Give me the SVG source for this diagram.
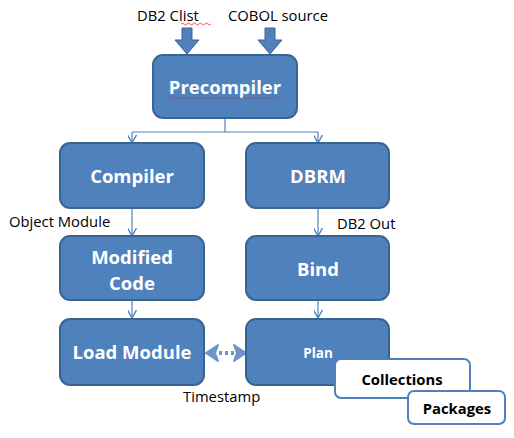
<svg xmlns="http://www.w3.org/2000/svg" width="514" height="438" viewBox="0 0 514 438">
<style>
.box{fill:#4F81BD;stroke:#3A6593;stroke-width:2}
.wbox{fill:#fff;stroke:#4F81BD;stroke-width:2}
.nt{font-family:"Open Sans","Liberation Sans",sans-serif;font-weight:bold;fill:#fff;text-anchor:middle;font-size:18.5px}
.bt{font-family:"Open Sans","Liberation Sans",sans-serif;font-weight:bold;fill:#000;text-anchor:middle;font-size:14.8px}
.lbl{font-family:"Open Sans","Liberation Sans",sans-serif;font-size:14.8px;fill:#000}
.con{fill:none;stroke:#4F81BD;stroke-width:1.2}
.sq{fill:none;stroke:#E03030;stroke-width:0.8}
</style>
<defs>
<marker id="ah" viewBox="0 0 10 10" refX="9" refY="5" markerWidth="9" markerHeight="9" markerUnits="userSpaceOnUse" orient="auto">
<path d="M0,0 L9,5 L0,10" fill="none" stroke="#4F81BD" stroke-width="1.5"/>
</marker>
</defs>
<g id="connectors">
<path class="con" d="M225,118 V132 M132,132 H318"/>
<path class="con" d="M132,132 V143" marker-end="url(#ah)"/>
<path class="con" d="M318,132 V143" marker-end="url(#ah)"/>
<path class="con" d="M132,208 V236" marker-end="url(#ah)"/>
<path class="con" d="M318,208 V236" marker-end="url(#ah)"/>
<path class="con" d="M132,300 V318" marker-end="url(#ah)"/>
<path class="con" d="M318,300 V318" marker-end="url(#ah)"/>
<path d="M182,28 H192 V40 H199 L187,54 L175,40 H182 Z" fill="#4F81BD" stroke="#3A6593" stroke-width="1"/>
<path d="M265,28 H275 V40 H282 L270,54 L258,40 H265 Z" fill="#4F81BD" stroke="#3A6593" stroke-width="1"/>
<g id="timestamp-link" fill="#6E95C8">
<path d="M206,353 L218,345 L215,353 L218,361 Z" stroke="#6E95C8" stroke-width="2" stroke-linejoin="round"/>
<path d="M246,353 L234,345 L237,353 L234,361 Z" stroke="#6E95C8" stroke-width="2" stroke-linejoin="round"/>
<path d="M219,353 H234" stroke="#6E95C8" stroke-width="4" stroke-dasharray="3,3"/>
</g>
</g>
<g id="label-db2clist"><text class="lbl" x="137" y="21">DB2 Clist</text><path class="sq" d="M181,24 q1.5,-2 3,0 t3,0 t3,0 t3,0 t3,0 t3,0 t3,0 t3,0 t3,0 t3,0"/></g>
<g id="label-cobol"><text class="lbl" x="228" y="21">COBOL source</text></g>
<g id="precompiler"><rect class="box" x="153" y="55" width="144" height="63" rx="10"/><text class="nt" x="225" y="94">Precompiler</text><path class="sq" d="M170,98 q1.5,-2 3,0 t3,0 t3,0 t3,0 t3,0 t3,0 t3,0 t3,0 t3,0 t3,0 t3,0 t3,0 t3,0 t3,0 t3,0 t3,0 t3,0 t3,0 t3,0 t3,0 t3,0 t3,0 t3,0 t3,0 t3,0 t3,0 t3,0 t3,0 t3,0 t3,0 t3,0 t3,0 t3,0 t3,0 t3,0 t3,0"/></g>
<g id="compiler"><rect class="box" x="60" y="143" width="144" height="65" rx="10"/><text class="nt" x="132" y="183">Compiler</text></g>
<g id="dbrm"><rect class="box" x="246" y="143" width="143" height="65" rx="10"/><text class="nt" x="318" y="183">DBRM</text></g>
<g id="label-objmod"><text class="lbl" x="9" y="227">Object Module</text></g>
<g id="label-db2out"><text class="lbl" x="337" y="229">DB2 Out</text></g>
<g id="modified-code"><rect class="box" x="60" y="236" width="144" height="64" rx="10"/><text class="nt" x="132" y="264">Modified</text><text class="nt" x="132" y="290">Code</text></g>
<g id="bind"><rect class="box" x="246" y="236" width="143" height="64" rx="10"/><text class="nt" x="318" y="276">Bind</text></g>
<g id="load-module"><rect class="box" x="60" y="319" width="144" height="66" rx="10"/><text class="nt" x="132" y="359">Load Module</text></g>
<g id="plan"><rect class="box" x="246" y="319" width="143" height="66" rx="10"/><text class="nt" x="318" y="358" style="font-size:13.5px">Plan</text></g>
<g id="label-timestamp"><text class="lbl" x="183" y="402">Timestamp</text></g>
<g id="collections"><rect class="wbox" x="335" y="359" width="135" height="39" rx="6"/><text class="bt" x="402" y="385">Collections</text></g>
<g id="packages"><rect class="wbox" x="408" y="391" width="97" height="33" rx="6"/><text class="bt" x="457" y="414">Packages</text></g>
</svg>
